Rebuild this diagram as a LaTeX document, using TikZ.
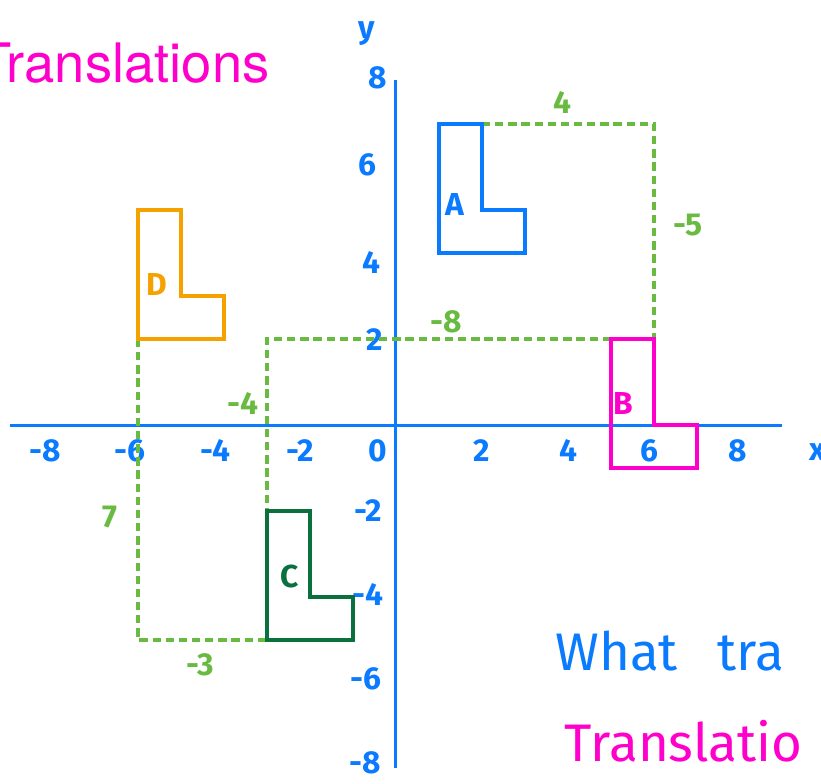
\documentclass[tikz,border=0pt]{standalone}
\usepackage{fontspec}
\setsansfont{TeX Gyre Heros}
\newfontfamily\handfont{Fira Sans}
\usetikzlibrary{positioning}
\definecolor{penblue}{RGB}{10,122,255}
\definecolor{penpink}{RGB}{255,0,204}
\definecolor{penlime}{RGB}{104,186,64}
\definecolor{pengreen}{RGB}{10,112,62}
\definecolor{penorange}{RGB}{245,162,0}
\tikzset{
  axisline/.style={penblue, line width=2pt},
  lshape/.style={draw=#1, line width=2.2pt, line join=miter},
  hand/.style={text=#1, inner sep=0pt, font=\handfont\bfseries\fontsize{21}{21}\selectfont},
  ticklab/.style={hand=penblue},
  movelab/.style={hand=penlime},
  gdash/.style={penlime, line width=2.2pt, dash pattern=on 5.5pt off 3.2pt},
  note/.style={anchor=base west, inner sep=0pt,
               font=\handfont\fontsize{35}{35}\selectfont}
}
\begin{document}
\begin{tikzpicture}[x=1cm, y=1cm]
\useasboundingbox (-9.209,-8.326) rectangle (9.884,9.884);
\node[anchor=base west, inner sep=0pt, text=penpink,
      font=\sffamily\fontsize{36}{36}\selectfont] (title) at (-9.72,7.96) {Translations};
\coordinate (xleft) at (-8.98,0);
\coordinate (xright) at (8.98,0);
\coordinate (ytop) at (0,8.02);
\coordinate (ybot) at (0,-7.98);
\draw[axisline] (xleft) -- (xright);
\draw[axisline] (ytop) -- (ybot);
\foreach \v/\p [count=\i] in {-8/-8.16,-6/-6.19,-4/-4.2,-2/-2.23,0/-0.42,2/2.0,4/4.0,6/5.9,8/7.95}
  \node[ticklab] (xt\i) at (\p,-0.6) {\v};
\foreach \v/\p/\q [count=\i] in {8/-0.42/8.07,6/-0.67/6.05,4/-0.56/3.79,2/-0.49/1.98,-2/-0.65/-1.98,-4/-0.65/-3.95,-6/-0.7/-5.9,-8/-0.72/-7.86}
  \node[ticklab] (yt\i) at (\p,\q) {\v};
\node[ticklab] (ylab) at (-0.67,9.1) {y};
\node[ticklab] (xlab) at (9.8,-0.63) {x};
\coordinate (Atop) at (2,7);
\coordinate (Btop) at (6,2);
\coordinate (Bleft) at (5,2);
\coordinate (Ctop) at (-3,-2);
\coordinate (Dleft) at (-6,2);
\coordinate (Cbot) at (-3,-5);
\draw[gdash] (Atop) -| (Btop);
\draw[gdash] (Bleft) -| (Ctop);
\draw[gdash] (Dleft) |- (Cbot);
\draw[lshape=penblue] (1,4) -- (3,4) -- (3,5) -- (2,5) -- (2,7) -- (1,7) -- cycle;
\draw[lshape=penpink] (5,-1) -- (7,-1) -- (7,0) -- (6,0) -- (6,2) -- (5,2) -- cycle;
\draw[lshape=pengreen] (-3,-5) -- (-1,-5) -- (-1,-4) -- (-2,-4) -- (-2,-2) -- (-3,-2) -- cycle;
\draw[lshape=penorange] (-6,2) -- (-4,2) -- (-4,3) -- (-5,3) -- (-5,5) -- (-6,5) -- cycle;
\node[hand=penblue] (labA) at (1.37,5.12) {A};
\node[hand=penpink] (labB) at (5.28,0.51) {B};
\node[hand=pengreen] (labC) at (-2.47,-3.53) {C};
\node[hand=penorange] (labD) at (-5.56,3.26) {D};
\node[movelab] (mv4) at (3.88,7.49) {4};
\node[movelab] (mvm5) at (6.79,4.65) {-5};
\node[movelab] (mvm8) at (1.16,2.4) {-8};
\node[movelab] (mvm4) at (-3.56,0.51) {-4};
\node[movelab] (mv7) at (-6.65,-2.14) {7};
\node[movelab] (mvm3) at (-4.56,-5.58) {-3};
\node[note, text=penblue] (question) at (3.7,-5.7) {What\hspace{0.75em}tra};
\node[note, text=penpink] (answer) at (3.92,-7.82) {Translatio};
\end{tikzpicture}
\end{document}
